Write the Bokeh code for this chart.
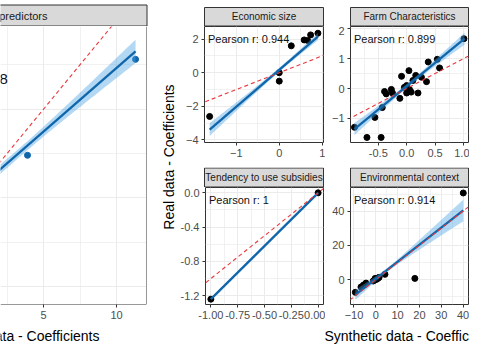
import math
import numpy as np
from bokeh.plotting import figure
from bokeh.layouts import row, column
from bokeh.models import Range1d, FixedTicker, NumeralTickFormatter, Label, Span
from bokeh.core.properties import value
from bokeh.embed import file_html
from bokeh.resources import INLINE

FONT = "Liberation Sans"

# ---------------- data ----------------
left_title = "All predictors"
left_r = "0.908"
left_x = [3.9, 11.3]
left_y = [2.4, 7.8]
left_fit_x = [-3.7, 11.3]
left_fit_y = [-2.50, 8.25]
left_band = [0.60, 0.25, 0.66]          # half-width: left end, narrowest, right end

titles = ["Economic size", "Farm Characteristics",
          "Tendency to use subsidies", "Environmental context"]
pearson = ["0.944", "0.899", "1", "0.914"]

econ_x = [-1.62, 0.00, 0.00, 0.28, 0.58, 0.66, 0.73, 0.90]
econ_y = [-2.60, 0.00, -0.50, 1.60, 1.95, 1.92, 2.25, 2.35]
econ_fit_x = [-1.62, 0.90]
econ_fit_y = [-3.38, 2.15]
econ_band = [0.38, 0.12, 0.22]

farm_x = [-0.92, -0.70, -0.45, -0.56, -0.43, -0.39, -0.36, -0.27, -0.25, -0.12,
          -0.09, -0.04, 0.00, 0.00, 0.05, 0.04, 0.08, 0.11, 0.16, 0.20,
          0.26, 0.35, 0.38, 0.54, 0.58, 1.01]
farm_y = [-1.30, -1.64, -1.64, -0.97, -0.64, -0.10, -0.18, -0.03, -0.15, -0.33,
          0.41, 0.04, -0.15, 0.10, -0.03, 0.60, -0.12, 0.27, 0.44, -0.15,
          0.38, 0.23, 0.89, 0.98, 0.69, 1.67]
farm_fit_x = [-0.92, 1.02]
farm_fit_y = [-1.36, 1.67]
farm_band = [0.20, 0.07, 0.20]

tend_x = [-1.00, 0.00]
tend_y = [-1.24, 0.00]
tend_fit_x = [-1.00, 0.00]
tend_fit_y = [-1.24, 0.00]

env_x = [-9.4, -6.8, -6.4, -5.6, -4.9, -4.5, -1.2, -0.8, -0.3, 0.0, 0.3, 0.5,
         0.8, 1.1, 1.5, 4.2, 17.9, 40.1]
env_y = [-7.4, -4.3, -4.1, -3.1, -2.7, -2.0, -0.8, -0.4, 0.75, 0.2, 0.5, 0.3,
         0.9, 1.0, 1.3, 3.1, 0.75, 50.6]
env_fit_x = [-9.4, 40.1]
env_fit_y = [-8.9, 40.4]
env_band = [2.9, 1.2, 6.3]

# ---------------- styling ----------------
BLUE = "#0f66ab"
BAND = "#4aa3e2"
RED = "#e8383d"
GRID = "#ebebeb"
DARK = "#333333"
STRIP = "#d9d9d9"


def base_fig(w, h, xr, yr, mb, yaxis=True, xaxis=True):
    l, r, t, b = mb
    p = figure(width=w, height=h, x_range=Range1d(*xr), y_range=Range1d(*yr),
               output_backend="svg", toolbar_location=None, title=None,
               min_border_left=l, min_border_right=r, min_border_top=t,
               min_border_bottom=b,
               x_axis_location="below" if xaxis else None,
               y_axis_location="left" if yaxis else None)
    p.background_fill_color = "white"
    p.border_fill_color = "white"
    return p


def blank_fig(w, h):
    p = base_fig(w, h, (0, w), (0, h), (0, 0, 0, 0), yaxis=False, xaxis=False)
    p.outline_line_color = None
    p.xgrid.visible = False
    p.ygrid.visible = False
    return p


def style_panel(p, xt, xm, yt, ym, xfmt=None, yfmt=None, tick_size="11px"):
    xtick = FixedTicker(ticks=xt, minor_ticks=xm)
    ytick = FixedTicker(ticks=yt, minor_ticks=ym)
    p.xgrid.ticker = xtick
    p.ygrid.ticker = ytick
    for ax in p.xaxis:
        ax.ticker = xtick
        if xfmt:
            ax.formatter = NumeralTickFormatter(format=xfmt)
    for ax in p.yaxis:
        ax.ticker = ytick
        if yfmt:
            ax.formatter = NumeralTickFormatter(format=yfmt)
    for ax in p.axis:
        ax.axis_line_color = None
        ax.major_tick_line_color = DARK
        ax.major_tick_out = 3
        ax.major_tick_in = 0
        ax.minor_tick_line_color = None
        ax.major_label_text_font = FONT
        ax.major_label_text_font_size = tick_size
        ax.major_label_text_color = "#4d4d4d"
        ax.major_label_standoff = 2
    p.grid.grid_line_color = GRID
    p.grid.grid_line_width = 1
    p.grid.minor_grid_line_color = GRID
    p.grid.minor_grid_line_width = 0.7
    p.outline_line_color = DARK
    p.outline_line_width = 1


def band_curve(fx, fy, hw):
    x0, x1 = fx
    y0, y1 = fy
    h0, m, h1 = hw
    a = math.sqrt(max(h0 ** 2 - m ** 2, 1e-9))
    b = math.sqrt(max(h1 ** 2 - m ** 2, 1e-9))
    c = (a * x1 + b * x0) / (a + b)
    k = (a + b) / (x1 - x0)
    xs = np.linspace(x0, x1, 80)
    ys = y0 + (y1 - y0) * (xs - x0) / (x1 - x0)
    h = np.sqrt(m ** 2 + k ** 2 * (xs - c) ** 2)
    return xs, ys - h, ys + h


def add_content(p, xs, ys, fx, fy, hw, pt_color, xr, yr):
    p.scatter(xs, ys, size=6, color=pt_color)
    if hw is not None:
        bx, lo, hi = band_curve(fx, fy, hw)
        p.varea(x=bx, y1=lo, y2=hi, fill_color=BAND, fill_alpha=0.42)
    p.line(fx, fy, line_color=BLUE, line_width=2.3)
    lo_ = min(xr[0], yr[0])
    hi_ = max(xr[1], yr[1])
    p.line([lo_, hi_], [lo_, hi_], line_color=RED, line_width=1.1,
           line_dash="4 3")


def add_pearson(p, r, xr, yr, fw, fh, size="11px"):
    ppx = fw / (xr[1] - xr[0])
    ppy = fh / (yr[1] - yr[0])
    p.add_layout(Label(x=xr[0] + 3.5 / ppx, y=yr[1] - 12.5 / ppy,
                       text="Pearson r: " + r, text_font=FONT,
                       text_font_size=size, text_color="#111111",
                       text_baseline="alphabetic"))


# ---------------- left panel ----------------
L_W, L_H = 156, 296
L_MB = (0, 10, 0, 18)
l_xr = (2.05, 12.05)
l_yr = (-6.0, 9.65)
left = base_fig(L_W, L_H, l_xr, l_yr, L_MB, yaxis=True)
left.yaxis.visible = False
style_panel(left, [5, 10], [2.5, 7.5, 12.5], [-5, 0, 5], [-2.5, 2.5, 7.5])
left.outline_line_color = None
add_content(left, left_x, left_y, left_fit_x, left_fit_y, left_band, BLUE,
            l_xr, l_yr)
left.add_layout(Span(location=l_xr[1], dimension="height", line_color=DARK,
                     line_width=1))
left.add_layout(Span(location=l_yr[0], dimension="width", line_color=DARK,
                     line_width=1))
ppy_l = 278 / (l_yr[1] - l_yr[0])
left.add_layout(Label(x=2.56, y=l_yr[1] - 52 / ppy_l, text="Pearson r: " + left_r,
                      text_font=FONT, text_font_size="15px", text_color="#111111",
                      text_align="right", text_baseline="alphabetic"))

# ---------------- facets ----------------
# row 1
e_xr, e_yr = (-1.74, 1.03), (-4.15, 2.75)
f1 = base_fig(148, 141, e_xr, e_yr, (27, 2, 0, 25))
style_panel(f1, [-1, 0, 1], [-1.5, -0.5, 0.5], [-4, -2, 0, 2], [-3, -1, 1])
add_content(f1, econ_x, econ_y, econ_fit_x, econ_fit_y, econ_band, "black",
            e_xr, e_yr)
add_pearson(f1, pearson[0], e_xr, e_yr, 119, 116)

fa_xr, fa_yr = (-0.99, 1.09), (-1.81, 2.08)
f2 = base_fig(144, 141, fa_xr, fa_yr, (25, 1, 0, 25))
style_panel(f2, [-0.5, 0, 0.5, 1.0], [-0.75, -0.25, 0.25, 0.75],
            [-1, 0, 1, 2], [-1.5, -0.5, 0.5, 1.5], xfmt="0.0")
add_content(f2, farm_x, farm_y, farm_fit_x, farm_fit_y, farm_band, "black",
            fa_xr, fa_yr)
add_pearson(f2, pearson[1], fa_xr, fa_yr, 118, 116)

# row 2
t_xr, t_yr = (-1.05, 0.05), (-1.302, 0.062)
f3 = base_fig(148, 135, t_xr, t_yr, (27, 2, 0, 18))
style_panel(f3, [-1, -0.75, -0.5, -0.25, 0], [-0.875, -0.625, -0.375, -0.125],
            [-1.2, -0.8, -0.4, 0.0], [-1.0, -0.6, -0.2], xfmt="0.00", yfmt="0.0")
add_content(f3, tend_x, tend_y, tend_fit_x, tend_fit_y, None, "black",
            t_xr, t_yr)
add_pearson(f3, pearson[2], t_xr, t_yr, 119, 117)

v_xr, v_yr = (-11.6, 42.5), (-14.5, 53.8)
f4 = base_fig(144, 135, v_xr, v_yr, (25, 1, 0, 18))
style_panel(f4, [-10, 0, 10, 20, 30, 40], [-5, 5, 15, 25, 35],
            [0, 20, 40], [-10, 10, 30, 50])
add_content(f4, env_x, env_y, env_fit_x, env_fit_y, env_band, "black",
            v_xr, v_yr)
add_pearson(f4, pearson[3], v_xr, v_yr, 118, 117)

# ---------------- strips ----------------
top_strip = blank_fig(469, 26)
top_strip.quad(left=[-5, 204, 350], right=[146.5, 323, 468],
               bottom=[0.5, 0.5, 0.5], top=[21.5, 19, 19],
               fill_color=STRIP, line_color=DARK, line_width=1)
top_strip.text(x=[47], y=[11], text=[left_title], text_font=value(FONT),
               text_font_size="11px", text_color="#1a1a1a",
               text_align="right", text_baseline="middle")
top_strip.text(x=[263.5, 409], y=[9.8, 9.8], text=titles[:2],
               text_font=value(FONT), text_font_size="10px",
               text_color="#1a1a1a", text_align="center",
               text_baseline="middle")

strip2 = blank_fig(292, 20)
strip2.quad(left=[27, 173], right=[146, 291], bottom=[0.5, 0.5],
            top=[19.5, 19.5], fill_color=STRIP, line_color=DARK, line_width=1)
strip2.text(x=[86.5, 232], y=[10, 10], text=titles[2:],
            text_font=value(FONT), text_font_size="10px",
            text_color="#1a1a1a", text_align="center", text_baseline="middle")

# ---------------- axis titles ----------------
ytitle = blank_fig(21, 296)
ytitle.text(x=[12], y=[157], text=["Real data - Coefficients"],
            angle=math.pi / 2, text_font=value(FONT), text_font_size="14px",
            text_color="black", text_align="center", text_baseline="middle")

xtitle = blank_fig(469, 22)
xtitle.text(x=[99, 324], y=[9, 9],
            text=["Synthetic data - Coefficients", "Synthetic data - Coefficients"],
            text_font=value(FONT), text_font_size="14px", text_color="black",
            text_align=["right", "left"], text_baseline="alphabetic")

right_col = column(row(f1, f2), strip2, row(f3, f4))
mid = row(left, ytitle, right_col)
layout = column(top_strip, mid, xtitle)

open("out.html", "w").write(file_html(layout, INLINE))
